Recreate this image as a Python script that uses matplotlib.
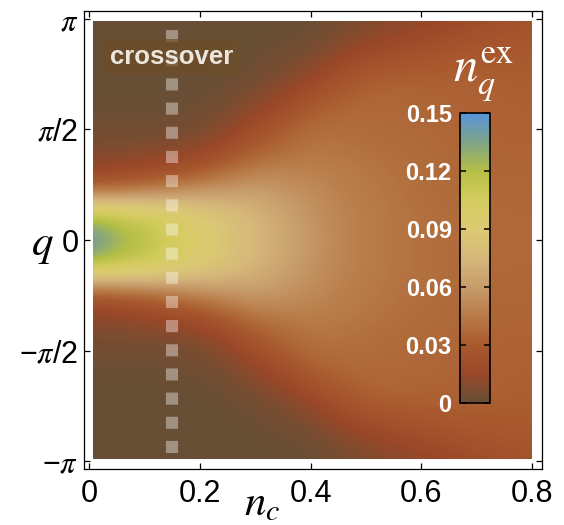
import numpy as np
import matplotlib
matplotlib.use('Agg')
import matplotlib.pyplot as plt
from matplotlib.colors import LinearSegmentedColormap
from matplotlib.patches import Rectangle

plt.rcParams['font.family'] = ['Liberation Sans', 'DejaVu Sans']
plt.rcParams['mathtext.fontset'] = 'stix'

# sample grid
nc = [0.0, 0.05, 0.1, 0.15, 0.2, 0.25, 0.3, 0.35, 0.4,
      0.45, 0.5, 0.55, 0.6, 0.65, 0.7, 0.75, 0.8]
q_half = [0, np.pi/8, np.pi/4, 3*np.pi/8, np.pi/2,
          5*np.pi/8, 3*np.pi/4, 7*np.pi/8, np.pi]
# n_q^ex, one row per nc value, columns are q = 0 .. pi (symmetric in q)
nq_ex = [
    [0.155, 0.112, 0.024, 0.008, 0.003, 0.001, 0.000, 0.000, 0.000],
    [0.132, 0.111, 0.026, 0.009, 0.003, 0.001, 0.000, 0.000, 0.000],
    [0.118, 0.107, 0.032, 0.010, 0.003, 0.001, 0.000, 0.000, 0.000],
    [0.107, 0.099, 0.040, 0.012, 0.004, 0.001, 0.000, 0.000, 0.000],
    [0.097, 0.091, 0.047, 0.016, 0.005, 0.002, 0.000, 0.000, 0.000],
    [0.086, 0.082, 0.054, 0.026, 0.010, 0.004, 0.001, 0.000, 0.000],
    [0.076, 0.073, 0.059, 0.037, 0.022, 0.009, 0.003, 0.001, 0.000],
    [0.067, 0.065, 0.056, 0.042, 0.031, 0.017, 0.006, 0.002, 0.000],
    [0.058, 0.057, 0.052, 0.045, 0.039, 0.028, 0.012, 0.004, 0.001],
    [0.051, 0.050, 0.048, 0.044, 0.040, 0.034, 0.022, 0.009, 0.003],
    [0.046, 0.046, 0.045, 0.042, 0.039, 0.037, 0.030, 0.014, 0.006],
    [0.043, 0.043, 0.042, 0.040, 0.038, 0.037, 0.032, 0.019, 0.009],
    [0.041, 0.041, 0.040, 0.039, 0.037, 0.036, 0.033, 0.022, 0.011],
    [0.039, 0.039, 0.038, 0.037, 0.036, 0.035, 0.033, 0.026, 0.014],
    [0.038, 0.038, 0.037, 0.036, 0.035, 0.034, 0.033, 0.028, 0.019],
    [0.037, 0.037, 0.036, 0.035, 0.034, 0.034, 0.032, 0.029, 0.022],
    [0.037, 0.037, 0.036, 0.035, 0.034, 0.033, 0.032, 0.030, 0.025],
]
nc_cross = 0.15
cbar_ticks = [0, 0.03, 0.06, 0.09, 0.12, 0.15]
cbar_labels = ['0', '0.03', '0.06', '0.09', '0.12', '0.15']
x_ticks = [0, 0.2, 0.4, 0.6, 0.8]
x_labels = ['0', '0.2', '0.4', '0.6', '0.8']
y_ticks = [-np.pi, -np.pi/2, 0, np.pi/2, np.pi]
y_labels = ['\u2212$\\pi$', '\u2212$\\pi$/2', '0', '$\\pi$/2', '$\\pi$']

# southwest-like colour scale
cmap = LinearSegmentedColormap.from_list('sw', [
    (0.00, (0.40, 0.31, 0.21)),
    (0.10, (0.60, 0.28, 0.16)),
    (0.20, (0.66, 0.35, 0.18)),
    (0.30, (0.72, 0.48, 0.28)),
    (0.40, (0.78, 0.61, 0.42)),
    (0.50, (0.84, 0.72, 0.48)),
    (0.60, (0.86, 0.79, 0.45)),
    (0.70, (0.83, 0.80, 0.37)),
    (0.80, (0.71, 0.75, 0.27)),
    (0.90, (0.50, 0.64, 0.52)),
    (1.00, (0.34, 0.58, 0.86)),
])

half = np.array(nq_ex).T              # rows q = 0..pi
grid = np.vstack([half[::-1], half[1:]])  # rows q = -pi..pi
dx = nc[1] - nc[0]
dq = q_half[1] - q_half[0]

fig = plt.figure(figsize=(5.64, 5.25), dpi=100)
ax = fig.add_axes([84/564, 56/525, 457.5/564, 458/525])

im = ax.imshow(grid, origin='lower', aspect='auto', cmap=cmap, vmin=0, vmax=0.15,
               extent=[nc[0]-dx/2, nc[-1]+dx/2, -np.pi-dq/2, np.pi+dq/2],
               interpolation='bicubic', interpolation_stage='data')
clip = Rectangle((0.008, -np.pi*0.99), 0.8-0.008, 2*np.pi*0.99, transform=ax.transData)
im.set_clip_path(clip)

ax.plot([nc_cross, nc_cross], [-3.03, 3.03], color='white', alpha=0.38,
        lw=8.7, dashes=(1, 1), dash_capstyle='butt')

ax.text(nc_cross, 2.6, 'crossover', ha='center', va='center', fontsize=18.5,
        fontweight='bold', color=(0.92, 0.9, 0.87),
        bbox=dict(boxstyle='square,pad=0.25', fc=(0.43, 0.30, 0.16), ec='none', alpha=0.7))

ax.set_xlim(-0.009, 0.817)
ax.set_ylim(-3.253, 3.253)
ax.set_xticks(x_ticks, x_labels)
ax.set_yticks(y_ticks, y_labels)
ax.tick_params(direction='in', length=4.5, width=0.9, labelsize=22,
               top=True, right=True, color='black')
ax.tick_params(axis='x', pad=7)
ax.tick_params(axis='y', pad=4)
for s in ax.spines.values():
    s.set_linewidth(0.9)

fig.text(0.465, 0.002, '$n_c$', ha='center', va='bottom', fontsize=31)
fig.text(0.075, 0.515, '$q$', ha='center', va='baseline', fontsize=31)

cax = fig.add_axes([460/564, 122/525, 30/564, 290/525])
cb = fig.colorbar(im, cax=cax, ticks=cbar_ticks)
cb.set_ticklabels(cbar_labels)
cb.outline.set_linewidth(1.2)
cax.yaxis.set_ticks_position('both')
cax.yaxis.set_label_position('left')
cax.tick_params(direction='in', length=4, width=1.1, color='black',
                labelleft=True, labelright=False, pad=6)
for t in cax.get_yticklabels():
    t.set_color('white')
    t.set_fontweight('bold')
    t.set_fontsize(17)

fig.text(0.857, 0.857, '$n_q^{\\mathrm{ex}}$', ha='center', va='center',
         fontsize=35, color='white')

fig.savefig('out.png', dpi=100)
